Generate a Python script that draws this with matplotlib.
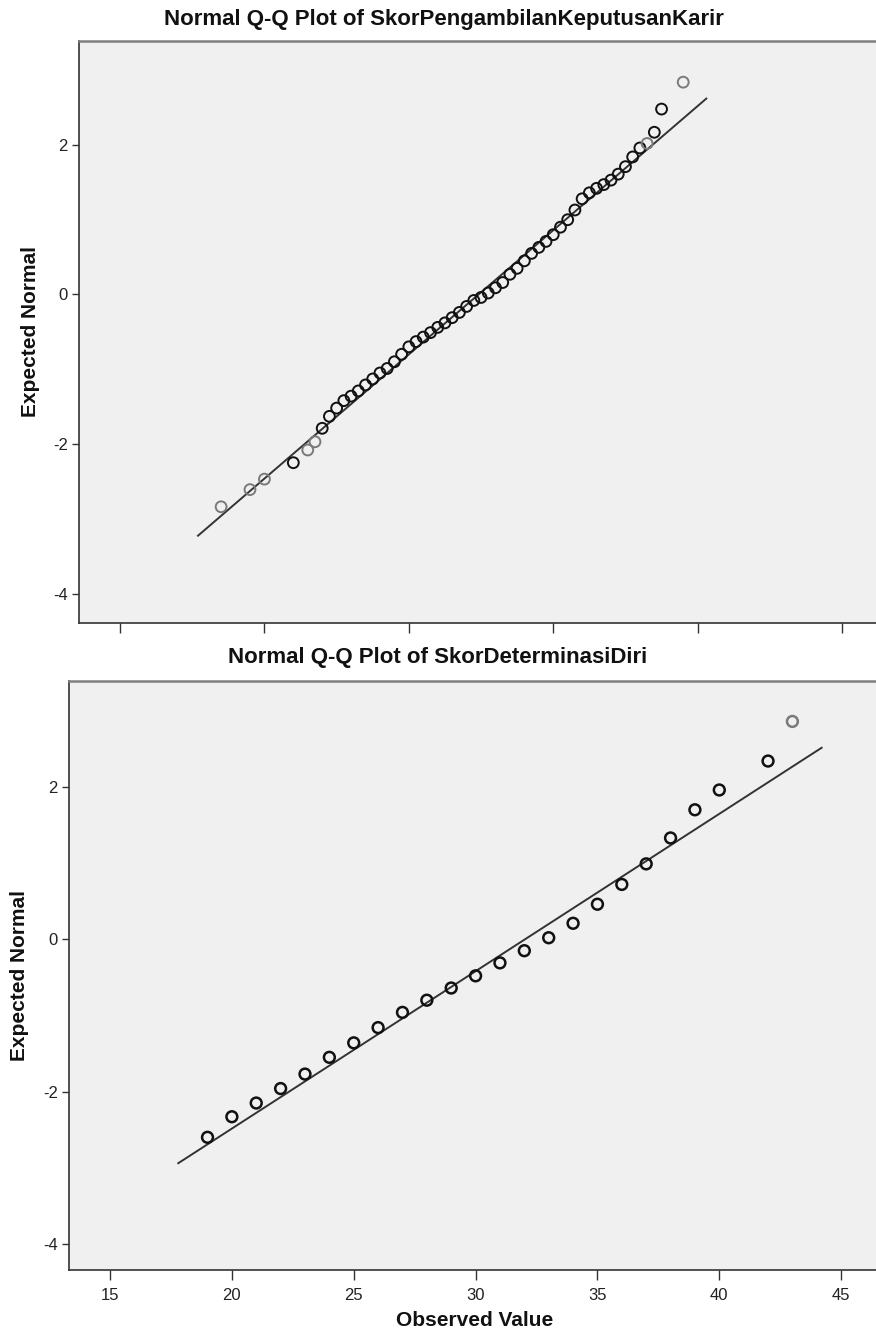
import matplotlib
matplotlib.use("Agg")
import matplotlib.pyplot as plt
import numpy as np

# Q-Q plot data
career_scores = [74, 78, 80, 84, 86, 87, 88, 89, 90, 91, 92, 93, 94, 95, 96, 97, 98, 99,
                 100, 101, 102, 103, 104, 105, 106, 107, 108, 109, 110, 111, 112, 113,
                 114, 115, 116, 117, 118, 119, 120, 121, 122, 123, 124, 125, 126, 127,
                 128, 129, 130, 131, 132, 133, 134, 135, 138]
career_expected = [-2.84, -2.61, -2.47, -2.25, -2.08, -1.97, -1.79, -1.63, -1.52, -1.42,
                   -1.36, -1.29, -1.21, -1.13, -1.05, -0.99, -0.90, -0.80, -0.70, -0.63,
                   -0.57, -0.51, -0.44, -0.38, -0.31, -0.24, -0.16, -0.08, -0.04, 0.02,
                   0.09, 0.16, 0.27, 0.35, 0.45, 0.55, 0.63, 0.71, 0.80, 0.90, 1.00, 1.13,
                   1.28, 1.36, 1.42, 1.47, 1.53, 1.61, 1.71, 1.84, 1.96, 2.02, 2.17, 2.48,
                   2.84]
career_single = [74, 78, 80, 86, 87, 133, 138]   # values observed only once
career_mean = 109.65
career_sd = 12.04
career_ticks = [60, 80, 100, 120, 140, 160]

det_scores = [19, 20, 21, 22, 23, 24, 25, 26, 27, 28, 29, 30, 31, 32, 33, 34, 35, 36,
              37, 38, 39, 40, 42, 43]
det_expected = [-2.60, -2.33, -2.15, -1.96, -1.77, -1.55, -1.36, -1.16, -0.96, -0.80,
                -0.64, -0.48, -0.31, -0.15, 0.02, 0.21, 0.46, 0.72, 0.99, 1.33, 1.70,
                1.96, 2.34, 2.86]
det_single = [43]
det_mean = 32.03
det_sd = 4.84
det_ticks = [15, 20, 25, 30, 35, 40, 45]

y_ticks = [2, 0, -2, -4]

plt.rcParams["font.family"] = ["Liberation Sans", "DejaVu Sans"]

BG = "#f0f0f0"
LINE = "#333333"


def qq_panel(ax, scores, expected, single, mean, sd, xticks, xlim, ylim, ms, mew):
    ax.set_facecolor(BG)
    scores = np.asarray(scores, dtype=float)
    expected = np.asarray(expected, dtype=float)

    # reference line: (x - mean) / sd over the data range plus 5 %
    span = scores.max() - scores.min()
    lx = np.array([scores.min() - 0.05 * span, scores.max() + 0.05 * span])
    ax.plot(lx, (lx - mean) / sd, color=LINE, lw=1.4, zorder=2)

    colors = ["#7a7a7a" if s in single else "#111111" for s in scores]
    ax.scatter(scores, expected, s=ms ** 2, facecolors="none", edgecolors=colors,
               linewidths=mew, zorder=3)

    ax.set_xlim(*xlim)
    ax.set_ylim(*ylim)
    ax.set_xticks(xticks)
    ax.set_yticks(y_ticks)
    ax.set_yticklabels([str(t) for t in y_ticks])
    ax.tick_params(axis="y", direction="out", length=5, width=1, color=LINE,
                   labelsize=12, pad=3, labelcolor="#222222")
    ax.tick_params(axis="x", direction="out", length=7, width=1, color=LINE,
                   labelsize=12, pad=6, labelcolor="#222222")
    for side in ("left", "bottom"):
        ax.spines[side].set_color(LINE)
        ax.spines[side].set_linewidth(1.2)
    ax.spines["top"].set_color("#808080")
    ax.spines["top"].set_linewidth(1.8)
    ax.spines["right"].set_visible(False)
    ax.set_ylabel("Expected Normal", fontsize=15, fontweight="bold", color="#111111")


fig = plt.figure(figsize=(8.76, 13.35), dpi=100)
fig.patch.set_facecolor("white")

ax1 = fig.add_axes([0.0902, 0.5337, 0.9098, 0.4356])
qq_panel(ax1, career_scores, career_expected, career_single, career_mean, career_sd,
         career_ticks, (54.32, 164.7), (-4.388, 3.391), ms=7.8, mew=1.4)
ax1.set_xticklabels([])
ax1.yaxis.set_label_coords(-0.049, 0.5)

ax2 = fig.add_axes([0.0788, 0.0487, 0.9212, 0.4412])
qq_panel(ax2, det_scores, det_expected, det_single, det_mean, det_sd,
         det_ticks, (13.318, 46.43), (-4.342, 3.391), ms=7.8, mew=1.8)
ax2.yaxis.set_label_coords(-0.050, 0.5)
ax2.set_xlabel("Observed Value", fontsize=15, fontweight="bold", color="#111111")
ax2.xaxis.set_label_coords(0.503, -0.069)

fig.text(0.507, 1 - 19 / 1335, "Normal Q-Q Plot of SkorPengambilanKeputusanKarir",
         ha="center", va="center", fontsize=16, fontweight="bold", color="#111111")
fig.text(0.500, 1 - 657 / 1335, "Normal Q-Q Plot of SkorDeterminasiDiri",
         ha="center", va="center", fontsize=16, fontweight="bold", color="#111111")

fig.savefig("out.png", dpi=100, facecolor="white")
